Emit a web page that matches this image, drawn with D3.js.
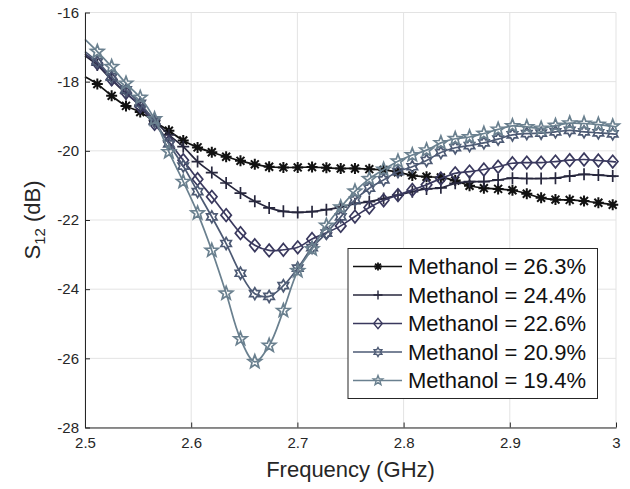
<!DOCTYPE html>
<html><head><meta charset="utf-8">
<script src="https://cdn.jsdelivr.net/npm/d3@7"></script>
<style>html,body{margin:0;padding:0;background:#fff;}svg{display:block;font-family:"Liberation Sans",Arial,Helvetica,sans-serif;}</style>
</head><body><svg id="c" width="630" height="489"></svg>
<script>
// ---- data ----
const freq = [2.5, 2.5116, 2.5251, 2.5386, 2.5520, 2.5655, 2.5790, 2.5925, 2.6060, 2.6194, 2.6329, 2.6464, 2.6599, 2.6734, 2.6868, 2.7003, 2.7138, 2.7273, 2.7408, 2.7542, 2.7677, 2.7812, 2.7947, 2.8082, 2.8216, 2.8351, 2.8486, 2.8621, 2.8756, 2.8890, 2.9025, 2.9160, 2.9295, 2.9430, 2.9564, 2.9699, 2.9834, 2.9969, 3.0];
const meth263 = [-17.86, -18.07, -18.41, -18.70, -18.88, -19.16, -19.42, -19.70, -19.90, -20.04, -20.17, -20.29, -20.39, -20.46, -20.48, -20.48, -20.47, -20.49, -20.51, -20.51, -20.53, -20.55, -20.62, -20.71, -20.75, -20.77, -20.86, -21.01, -21.08, -21.10, -21.14, -21.24, -21.36, -21.41, -21.42, -21.45, -21.50, -21.56, -21.58];
const meth244 = [-17.25, -17.52, -17.95, -18.34, -18.68, -19.12, -19.54, -19.88, -20.31, -20.63, -20.93, -21.22, -21.46, -21.65, -21.75, -21.78, -21.76, -21.70, -21.63, -21.53, -21.47, -21.38, -21.28, -21.18, -21.10, -21.07, -20.94, -20.89, -20.89, -20.84, -20.79, -20.80, -20.80, -20.79, -20.73, -20.68, -20.70, -20.73, -20.74];
const meth226 = [-17.20, -17.47, -17.93, -18.32, -18.72, -19.22, -19.74, -20.27, -20.82, -21.33, -21.86, -22.38, -22.73, -22.88, -22.86, -22.79, -22.55, -22.37, -22.17, -21.90, -21.64, -21.43, -21.28, -21.13, -20.98, -20.80, -20.65, -20.60, -20.54, -20.46, -20.36, -20.34, -20.34, -20.31, -20.27, -20.25, -20.28, -20.31, -20.32];
const meth209 = [-17.13, -17.42, -17.86, -18.24, -18.63, -19.15, -19.80, -20.44, -21.18, -21.91, -22.68, -23.54, -24.13, -24.21, -23.90, -23.39, -22.80, -22.38, -21.91, -21.42, -21.08, -20.84, -20.60, -20.46, -20.28, -20.05, -19.91, -19.85, -19.77, -19.66, -19.54, -19.50, -19.49, -19.45, -19.41, -19.45, -19.48, -19.51, -19.52];
const meth194 = [-16.78, -17.13, -17.57, -18.05, -18.46, -19.08, -20.03, -20.89, -21.80, -22.88, -24.12, -25.44, -26.10, -25.63, -24.62, -23.47, -22.84, -22.16, -21.63, -21.17, -20.81, -20.54, -20.30, -20.12, -19.98, -19.77, -19.65, -19.60, -19.50, -19.38, -19.28, -19.31, -19.35, -19.27, -19.20, -19.21, -19.24, -19.29, -19.31];
const seriesNames = ["Methanol = 26.3%", "Methanol = 24.4%", "Methanol = 22.6%", "Methanol = 20.9%", "Methanol = 19.4%"];
const xTicks = [2.5, 2.6, 2.7, 2.8, 2.9, 3];
const yTicks = [-28, -26, -24, -22, -20, -18, -16];

// ---- styles ----
const colors = ["#111111", "#27273d", "#3a395e", "#4d5a74", "#6a808f"];
const shapes = ["asterisk", "plus", "diamond", "hexagram", "pentagram"];

function shapePath(type, s) {
  const p = d3.path();
  if (type === "asterisk") {
    const a = s * 0.72;
    p.moveTo(-s, 0); p.lineTo(s, 0); p.moveTo(0, -s); p.lineTo(0, s);
    p.moveTo(-a, -a); p.lineTo(a, a); p.moveTo(-a, a); p.lineTo(a, -a);
  } else if (type === "plus") {
    p.moveTo(-s, 0); p.lineTo(s, 0); p.moveTo(0, -s); p.lineTo(0, s);
  } else if (type === "diamond") {
    p.moveTo(0, -s * 1.15); p.lineTo(s * 0.95, 0); p.lineTo(0, s * 1.15); p.lineTo(-s * 0.95, 0); p.closePath();
  } else if (type === "hexagram") {
    const ri = s / Math.sqrt(3);
    for (let k = 0; k < 12; k++) {
      const r = k % 2 === 0 ? s : ri;
      const ang = -Math.PI / 2 + k * Math.PI / 6;
      const px = r * Math.cos(ang), py = r * Math.sin(ang);
      if (k === 0) p.moveTo(px, py); else p.lineTo(px, py);
    }
    p.closePath();
  } else if (type === "pentagram") {
    const ri = s * 0.42;
    for (let k = 0; k < 10; k++) {
      const r = k % 2 === 0 ? s : ri;
      const ang = -Math.PI / 2 + k * Math.PI / 5;
      const px = r * Math.cos(ang), py = r * Math.sin(ang);
      if (k === 0) p.moveTo(px, py); else p.lineTo(px, py);
    }
    p.closePath();
  }
  return p.toString();
}
const markerSize = [5.5, 6, 5.5, 6, 7];
const legendMarkerSize = [4, 4.5, 4.5, 4.5, 5];

// ---- chart ----
const svg = d3.select("#c");
const L = 85, R = 616, T = 12.5, B = 427.5;
const x = d3.scaleLinear().domain([2.5, 3]).range([L, R]);
const y = d3.scaleLinear().domain([-28, -16]).range([B, T]);

// grid
const grid = svg.append("g").attr("stroke", "#e3e3e3").attr("stroke-width", 1);
xTicks.forEach(t => grid.append("line").attr("x1", x(t)).attr("x2", x(t)).attr("y1", T).attr("y2", B));
yTicks.forEach(t => grid.append("line").attr("x1", L).attr("x2", R).attr("y1", y(t)).attr("y2", y(t)));

const allSeries = [meth263, meth244, meth226, meth209, meth194];
const line = d3.line().x((d, i) => x(freq[i])).y(d => y(d)).curve(d3.curveCatmullRom.alpha(0.5));

allSeries.forEach((vals, si) => {
  const g = svg.append("g");
  g.append("path").attr("d", line(vals)).attr("fill", "none")
    .attr("stroke", colors[si]).attr("stroke-width", 1.7);
  const pts = vals.map((v, i) => ({ f: freq[i], v, i })).filter(d => d.i > 0 && d.i < freq.length - 1);
  g.selectAll("path.m").data(pts).enter().append("path").attr("class", "m")
    .attr("transform", d => `translate(${x(d.f)},${y(d.v)})`)
    .attr("d", shapePath(shapes[si], markerSize[si]))
    .attr("fill", "none").attr("stroke", colors[si]).attr("stroke-width", si === 0 ? 2 : 1.7)
    .attr("stroke-linejoin", "miter");
});

// axes
const xAxis = d3.axisBottom(x).tickValues(xTicks).tickFormat(d => String(d)).tickSizeInner(-5).tickSizeOuter(0).tickPadding(10);
const yAxis = d3.axisLeft(y).tickValues(yTicks).tickFormat(d => String(d)).tickSizeInner(-5).tickSizeOuter(0).tickPadding(6);
const gx = svg.append("g").attr("transform", `translate(0,${B})`).call(xAxis);
const gy = svg.append("g").attr("transform", `translate(${L},0)`).call(yAxis);
[gx, gy].forEach(g => {
  g.select(".domain").attr("stroke", "#262626").attr("stroke-width", 1);
  g.selectAll(".tick line").attr("stroke", "#262626");
  g.selectAll(".tick text").attr("fill", "#262626").attr("font-size", 15).attr("font-family", '"Liberation Sans",Arial,sans-serif');
});

// labels
svg.append("text").attr("x", (L + R) / 2).attr("y", 477).attr("text-anchor", "middle")
  .attr("font-size", 22).attr("fill", "#262626").text("Frequency (GHz)");
const yl = svg.append("text").attr("transform", `translate(40,${(T + B) / 2}) rotate(-90)`)
  .attr("text-anchor", "middle").attr("font-size", 22).attr("fill", "#262626");
yl.append("tspan").text("S");
yl.append("tspan").attr("font-size", 15).attr("dy", 5).text("12");
yl.append("tspan").attr("dy", -5).text(" (dB)");

// legend
const lg = svg.append("g").attr("transform", "translate(348,248.5)");
lg.append("rect").attr("width", 249.5).attr("height", 150).attr("fill", "#fff").attr("stroke", "#262626").attr("stroke-width", 1);
seriesNames.forEach((name, si) => {
  const cy = 18 + si * 28.5;
  lg.append("line").attr("x1", 5).attr("x2", 54).attr("y1", cy).attr("y2", cy)
    .attr("stroke", colors[si]).attr("stroke-width", 1.6);
  lg.append("path").attr("transform", `translate(30,${cy})`).attr("d", shapePath(shapes[si], legendMarkerSize[si]))
    .attr("fill", "none").attr("stroke", colors[si]).attr("stroke-width", si === 0 ? 1.8 : 1.4);
  lg.append("text").attr("x", 60).attr("y", cy + 7.5).attr("font-size", 22).attr("fill", "#111").text(name);
});
</script></body></html>
